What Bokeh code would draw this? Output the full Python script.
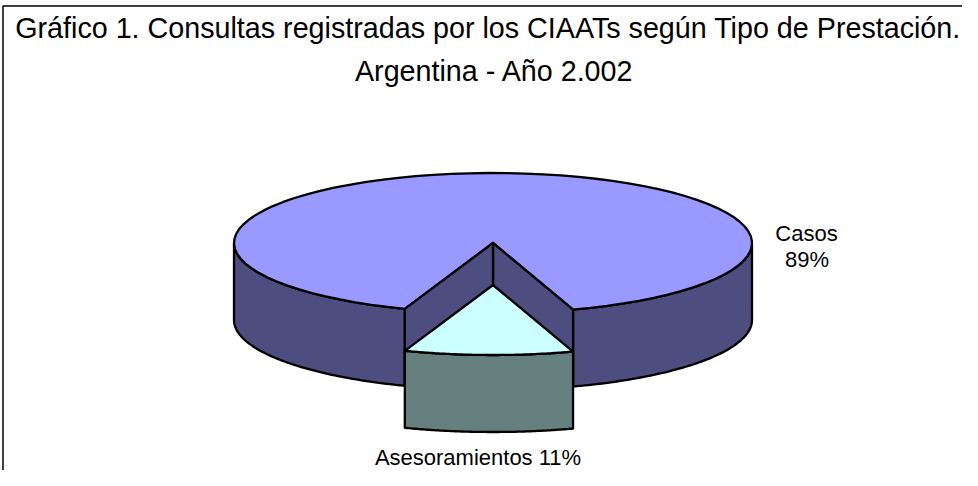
import numpy as np
from bokeh.plotting import figure
from bokeh.models import Range1d
from bokeh.core.properties import value
from bokeh.embed import file_html
from bokeh.resources import INLINE

title_lines = ["Gráfico 1. Consultas registradas por los CIAATs según Tipo de Prestación.",
               "Argentina - Año 2.002"]
categories = ["Casos", "Asesoramientos"]
shares = [89.47, 10.53]
share_labels = ["89%", "11%"]

FONT = "Liberation Sans"
TOP, SIDE = "#9999FF", "#4D4D7F"
S_TOP, S_SIDE = "#CCFFFF", "#667F7F"
CX, CY, RX, RY, DEPTH, EXPLODE = 492.5, 242.5, 259, 70, 77, 42
ROTATION = np.radians(0.95)
LW = 2.3

p = figure(width=962, height=470, x_range=Range1d(0, 962), y_range=Range1d(470, 0),
           output_backend="svg", toolbar_location=None, min_border=0,
           background_fill_color="white", border_fill_color="white",
           outline_line_color=None)
p.axis.visible = False
p.grid.visible = False

half = np.pi * shares[1] / 100
right = half - ROTATION   # slice edge right of the bottom point
left = half + ROTATION    # slice edge left of the bottom point


def rim(t0, t1, dy=0.0):
    t = np.linspace(t0, t1, 80)
    return CX + RX * np.sin(t), CY + dy + RY * np.cos(t)


def patch(xs, ys, color):
    p.patch(list(xs), list(ys), fill_color=color, line_color="black",
            line_width=LW, line_join="round")


def side(t0, t1, dy, color):
    x, y = rim(t0, t1, dy)
    patch(np.r_[x, x[::-1]], np.r_[y, y[::-1] + DEPTH], color)


# frame: only the top and left edges show in the picture
p.line([962, 2.5, 2.5], [5.5, 5.5, 470], line_color="black", line_width=1.5)

# main body: outer walls, top face, then the walls of the gap
side(right, np.pi / 2, 0, SIDE)
side(1.5 * np.pi, 2 * np.pi - left, 0, SIDE)
x, y = rim(right, 2 * np.pi - left)
patch(np.r_[CX, x], np.r_[CY, y], TOP)
for t in (right, -left):
    ex = CX + RX * np.sin(t)
    ey = CY + RY * np.cos(t)
    patch([CX, ex, ex, CX], [CY, ey, ey + DEPTH, CY + DEPTH], SIDE)

# exploded slice
side(-left, right, EXPLODE, S_SIDE)
x, y = rim(-left, right, EXPLODE)
patch(np.r_[CX, x], np.r_[CY + EXPLODE, y], S_TOP)

# texts
p.text([487.5, 494], [27, 70], text=title_lines, text_font=value(FONT), text_font_size="28.7px",
       text_align="center", text_baseline="middle", text_color="black")
p.text([806, 806.5], [233, 259], text=[categories[0], share_labels[0]], text_font=value(FONT),
       text_font_size="22px", text_align="center", text_baseline="middle", text_color="black")
p.text([477.5], [457], text=[f"{categories[1]} {share_labels[1]}"], text_font=value(FONT),
       text_font_size="22px", text_align="center", text_baseline="middle", text_color="black")

open("out.html", "w").write(file_html(p, INLINE))
